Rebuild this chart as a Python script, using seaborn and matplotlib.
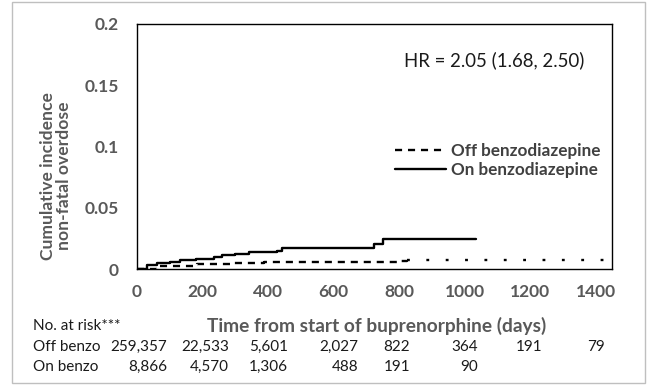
import numpy as np
import pandas as pd
import matplotlib
matplotlib.use("Agg")
import matplotlib.pyplot as plt
import seaborn as sns
from matplotlib.patches import Rectangle

# cumulative incidence curves (step functions)
on_days = [0, 30, 61, 100, 132, 180, 234, 259, 300, 341, 380, 427, 442, 722, 751, 1035]
on_cum = [0, 0.003, 0.0049, 0.006, 0.007, 0.008, 0.0094, 0.0114, 0.012, 0.0135, 0.014, 0.0146,
          0.017, 0.0206, 0.0244, 0.0244]
off_days = [0, 61, 183, 285, 387, 500, 800, 824, 1100, 1450]
off_cum = [0, 0.0021, 0.0037, 0.0049, 0.0057, 0.006, 0.0062, 0.0075, 0.0075, 0.0078]

# number at risk table
risk_rows = ["Off benzo", "On benzo"]
risk_off = ["259,357", "22,533", "5,601", "2,027", "822", "364", "191", "79"]
risk_on = ["8,866", "4,570", "1,306", "488", "191", "90"]

hr_text = "HR = 2.05 (1.68, 2.50)"

W, H = 647, 385
sns.set_style("white")
plt.rcParams["font.family"] = ["Lato", "DejaVu Sans"]

fig = plt.figure(figsize=(W / 100, H / 100), dpi=100)
ax = fig.add_axes([137 / W, 1 - 269 / H, (612 - 137) / W, (269 - 24) / H])

off_df = pd.DataFrame({"days": off_days, "cum": off_cum})
on_df = pd.DataFrame({"days": on_days, "cum": on_cum})
off_early = off_df[off_df["days"] <= 824]
off_late = off_df[off_df["days"] >= 824]

sns.lineplot(data=off_early, x="days", y="cum", ax=ax, estimator=None, drawstyle="steps-post",
             color="black", lw=1.7, linestyle=(0, (3, 2.5)),
             label="Off benzodiazepine")
# the tail of the off-benzo curve renders as sparse dots in the original
sns.lineplot(data=off_late, x="days", y="cum", ax=ax, estimator=None, drawstyle="steps-post",
             color="black", lw=1.7, linestyle=(0, (1.2, 7)), legend=False)
sns.lineplot(data=on_df, x="days", y="cum", ax=ax, estimator=None, drawstyle="steps-post",
             color="black", lw=1.7, label="On benzodiazepine")

ax.set_xlim(0, 1450)
ax.set_ylim(0, 0.2)
ax.set_xticks(np.arange(0, 1401, 200))
ax.set_xticks(np.arange(0, 1401, 100), minor=True)
ax.set_yticks([0, 0.05, 0.1, 0.15, 0.2])
ax.set_yticklabels(["0", "0.05", "0.1", "0.15", "0.2"])
ax.set_yticks(np.arange(0, 0.2, 0.025), minor=True)
ax.tick_params(axis="both", which="both", direction="out", length=5, width=1, color="black")
ax.tick_params(axis="both", which="major", labelsize=12.5, labelcolor="#595959")
ax.tick_params(axis="x", pad=6)
ax.tick_params(axis="y", pad=8)
for lab in ax.get_xticklabels() + ax.get_yticklabels():
    lab.set_fontweight("bold")
for sp in ax.spines.values():
    sp.set_color("black")
    sp.set_linewidth(1)
ax.set_xlabel("")
ax.set_ylabel("")

leg = ax.legend(loc="upper left", bbox_to_anchor=((395 - 137) / 475, (269 - 143) / 245),
                frameon=False, borderpad=0, borderaxespad=0, handlelength=3.0,
                handletextpad=0.25, labelspacing=0.15, prop={"size": 12.3, "weight": "bold"})
for t in leg.get_texts():
    t.set_color("#404040")

ax.text((494 - 137) / 475, (269 - 60) / 245, hr_text, transform=ax.transAxes,
        ha="center", va="center", fontsize=13.4, color="#1a1a1a")

# axis titles
fig.text(377 / W, 1 - 326 / H, "Time from start of buprenorphine (days)", ha="center", va="center",
         fontsize=13.8, fontweight="bold", color="#595959")
fig.text(56 / W, 1 - 176 / H, "Cumulative incidence\nnon-fatal overdose", ha="center", va="center",
         rotation=90, fontsize=12.6, fontweight="bold", color="#595959", linespacing=0.95)

# number at risk table
fs = 11
fig.text(33 / W, 1 - 326 / H, "No. at risk***", ha="left", va="center", fontsize=fs, color="#1a1a1a")
col_right = [167, 229, 288, 358, 410, 478, 542, 605]
for row_label, vals, yy in zip(risk_rows, [risk_off, risk_on], [347, 367]):
    fig.text(33 / W, 1 - yy / H, row_label, ha="left", va="center", fontsize=fs, color="#1a1a1a")
    for v, xr in zip(vals, col_right):
        fig.text(xr / W, 1 - yy / H, v, ha="right", va="center", fontsize=fs, color="#1a1a1a")

# outer frame
fig.patches.append(Rectangle((12 / W, 1 - 383 / H), (645 - 12) / W, (383 - 2) / H,
                             transform=fig.transFigure, fill=False, edgecolor="#bfbfbf", lw=1))

fig.savefig("out.png", dpi=100)
